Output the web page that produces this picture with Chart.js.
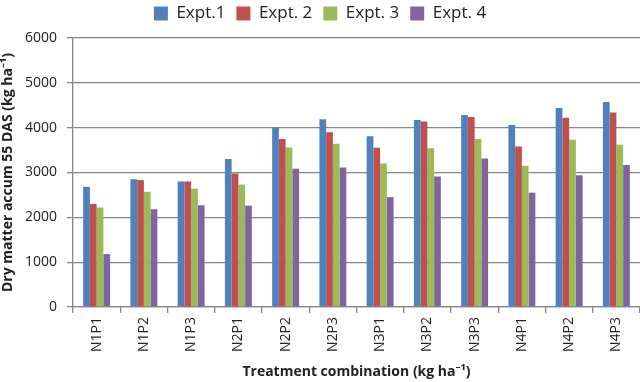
<!DOCTYPE html>
<html>
<head>
<meta charset="utf-8">
<script src="https://cdn.jsdelivr.net/npm/chart.js@4"></script>
<style>
  html, body { margin: 0; padding: 0; background: #fff; }
  #wrap { width: 640px; height: 382px; }
</style>
</head>
<body>
<div id="wrap"><canvas id="chart"></canvas></div>
<script>
var categories = ['N1P1', 'N1P2', 'N1P3', 'N2P1', 'N2P2', 'N2P3', 'N3P1', 'N3P2', 'N3P3', 'N4P1', 'N4P2', 'N4P3'];
var expt1 = [2680, 2850, 2800, 3300, 4000, 4190, 3810, 4170, 4280, 4060, 4440, 4570];
var expt2 = [2300, 2830, 2800, 2980, 3750, 3900, 3550, 4140, 4240, 3580, 4220, 4340];
var expt3 = [2220, 2570, 2640, 2730, 3560, 3640, 3200, 3540, 3750, 3150, 3730, 3620];
var expt4 = [1180, 2180, 2270, 2260, 3085, 3110, 2450, 2910, 3310, 2550, 2940, 3170];

var font = "'Open Sans', 'Noto Sans', sans-serif";
var gridColor = '#868686';

// nudge the legend up a little, like the original
var legendNudge = {
    id: 'legendNudge',
    afterLayout: function (chart) {
        if (chart.legend) {
            chart.legend.top -= 6;
            chart.legend.bottom -= 6;
        }
    }
};

new Chart(document.getElementById('chart'), {
    type: 'bar',
    data: {
        labels: categories,
        datasets: [
            { label: 'Expt.1', data: expt1, backgroundColor: '#4F81BD' },
            { label: 'Expt. 2', data: expt2, backgroundColor: '#C0504D' },
            { label: 'Expt. 3', data: expt3, backgroundColor: '#9BBB59' },
            { label: 'Expt. 4', data: expt4, backgroundColor: '#8064A2' }
        ]
    },
    plugins: [legendNudge],
    options: {
        responsive: true,
        maintainAspectRatio: false,
        animation: false,
        layout: { padding: { top: 0, right: 0, bottom: 0, left: 0 } },
        datasets: {
            bar: { barPercentage: 1, categoryPercentage: 0.57 }
        },
        plugins: {
            tooltip: { enabled: false },
            legend: {
                position: 'top',
                labels: {
                    font: { family: font, size: 17 },
                    color: '#222',
                    boxWidth: 14,
                    boxHeight: 14,
                    padding: 11
                }
            }
        },
        scales: {
            y: {
                min: 0,
                max: 6000,
                ticks: {
                    stepSize: 1000,
                    font: { family: font, size: 14 },
                    color: '#222',
                    padding: 10,
                    callback: function (v) { return String(v); }
                },
                grid: { color: gridColor, tickLength: 6, drawTicks: true, lineWidth: 1.3 },
                border: { color: gridColor, width: 1.3 },
                title: {
                    display: true,
                    text: 'Dry matter accum 55 DAS (kg ha\u207B\u00B9)',
                    font: { family: font, size: 14, weight: 'bold' },
                    color: '#222',
                    padding: { top: 0, bottom: 0 }
                },
                afterFit: function (scale) { scale.width = 73; }
            },
            x: {
                ticks: {
                    font: { family: font, size: 14 },
                    color: '#222',
                    maxRotation: 90,
                    minRotation: 90,
                    padding: 4
                },
                grid: { display: true, drawOnChartArea: false, offset: true, color: gridColor, tickLength: 6, lineWidth: 1.3 },
                border: { color: gridColor, width: 1.3 },
                title: {
                    display: true,
                    text: 'Treatment combination (kg ha\u207B\u00B9)',
                    font: { family: font, size: 14, weight: 'bold' },
                    color: '#222',
                    padding: { top: 4, bottom: 2 }
                },
                afterFit: function (scale) { scale.height = 75; }
            }
        }
    }
});
</script>
</body>
</html>
